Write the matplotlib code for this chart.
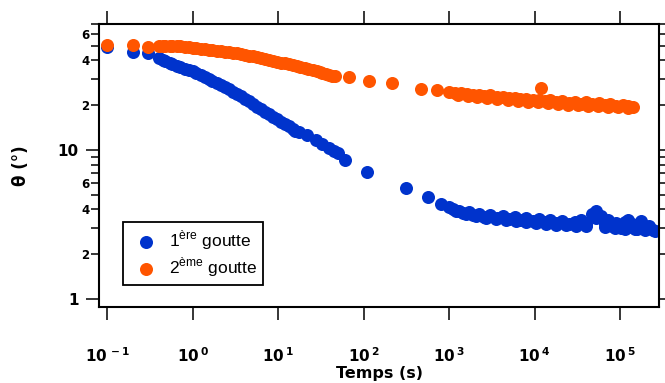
import matplotlib
matplotlib.use('Agg')
import matplotlib.pyplot as plt
from matplotlib.ticker import NullLocator

# data (time in s, contact angle in degrees)
t_goutte1 = [0.1, 0.2, 0.3, 0.40, 0.48, 0.58, 0.72, 0.90, 1.11, 1.38, 1.71, 2.13,
             2.64, 3.27, 4.06, 5.03, 6.24, 7.74, 9.6, 11.9, 14.8, 17.4, 22.1, 27.5,
             33.1, 39.0, 44.6, 49.6, 61.5, 111, 318, 575, 796,
             986, 1099, 1291, 1438, 1690, 1884, 2213, 2600, 3055, 3594, 4227, 4966,
             5834, 6855, 8054, 9480, 11140, 13090, 15380, 18070, 21230, 25000, 29380,
             34510, 40550, 47650, 53090, 59150, 65900, 73340, 81700, 91000, 101400,
             113000, 125700, 140000, 156000, 173800, 193600, 215500, 240000, 260000]
theta_goutte1 = [49.1, 45.5, 45.0, 41.4, 39.5, 37.8, 36.1, 34.4, 32.9, 30.9, 29.1, 27.3,
                 25.6, 23.8, 22.0, 20.4, 18.8, 17.5, 16.2, 14.9, 13.8, 13.2, 12.6, 11.7,
                 11.0, 10.3, 9.85, 9.55, 8.57, 7.12, 5.56, 4.84, 4.35,
                 4.14, 4.02, 3.90, 3.78, 3.84, 3.66, 3.72, 3.55, 3.66, 3.50, 3.60, 3.44,
                 3.55, 3.39, 3.50, 3.34, 3.44, 3.29, 3.39, 3.24, 3.34, 3.18, 3.29,
                 3.39, 3.18, 3.72, 3.90, 3.60, 3.18, 3.39, 3.09, 3.24, 3.00,
                 3.29, 3.04, 3.18, 2.95, 3.18, 3.00, 3.09, 2.90, 2.86]
# more readings where the blue points pile up
t_goutte1_dense = [0.446, 0.538, 0.650, 0.806, 1.0, 1.24, 1.54, 1.91, 2.37, 2.94, 3.64,
                   4.52, 5.61, 6.95, 8.62, 10.7, 13.3, 16.0,
                   1191, 1560, 2042, 2673, 3499, 4581, 5997, 7851, 10280, 13450, 17610,
                   23050, 30170, 39490, 51690, 67660, 88560, 115900, 151700, 198600,
                   125700, 173800]
theta_goutte1_dense = [40.5, 38.6, 36.9, 35.2, 33.7, 31.9, 30.0, 28.2, 26.5, 24.7, 22.9,
                       21.2, 19.6, 18.1, 16.8, 15.5, 14.4, 13.5,
                       3.90, 3.72, 3.60, 3.50, 3.44, 3.39, 3.34, 3.29, 3.24, 3.18, 3.14,
                       3.14, 3.09, 3.09, 3.50, 3.04, 3.00, 2.95, 2.95, 2.90,
                       3.40, 3.35]

t_goutte2 = [0.1, 0.2, 0.3, 0.40, 0.48, 0.58, 0.72, 0.90, 1.11, 1.38, 1.71, 2.13,
             2.64, 3.27, 4.06, 5.03, 6.24, 7.74, 9.6, 11.9, 14.8, 18.3, 22.7, 28.2,
             33.1, 39.0, 45.8, 66.8, 117, 218, 475, 733,
             986, 1159, 1365, 1602, 1884, 2213, 2600, 3055, 3594, 4227, 4966, 5834,
             6855, 8054, 9480, 11140, 13090, 15380, 18070, 21230, 25000, 29380, 34510,
             40550, 47650, 56100, 65900, 77400, 91000, 107000, 125700, 143800, 11800]
theta_goutte2 = [50.7, 50.7, 49.1, 49.9, 49.9, 49.9, 49.9, 49.1, 48.4, 47.6, 46.9, 46.2,
                 45.5, 44.8, 43.4, 42.8, 41.4, 40.2, 39.0, 38.4, 37.2, 36.1, 35.0, 33.9,
                 32.9, 31.9, 31.4, 30.9, 29.1, 28.2, 25.6, 25.3,
                 24.5, 24.1, 24.1, 23.8, 23.4, 23.4, 23.0, 23.4, 22.7, 22.7, 22.3, 22.3,
                 22.0, 22.0, 21.7, 21.7, 21.3, 21.7, 21.0, 21.3, 20.7, 21.0, 20.4,
                 21.0, 20.4, 20.7, 20.0, 20.4, 19.7, 20.0, 19.7, 19.5, 26.1]
t_goutte2_dense = [0.446, 0.538, 0.650, 0.806, 1.0, 1.24, 1.54, 1.91, 2.37, 2.94, 3.64,
                   4.52, 5.61, 6.95, 8.62, 10.7, 13.3, 16.5, 20.4, 25.3, 30.6, 35.9, 42.3,
                   1257, 1645, 2153, 2818, 3690, 4831, 6324, 8279, 10840, 14190, 18580,
                   24320, 31840, 41690, 54580, 71450, 93540, 122500]
theta_goutte2_dense = [49.9, 49.9, 49.9, 49.5, 48.7, 48.0, 47.2, 46.5, 45.8, 45.1, 44.1,
                       43.1, 42.1, 40.8, 39.6, 38.7, 37.8, 36.6, 35.5, 34.4, 33.4, 32.4, 31.6,
                       23.4, 23.0, 22.7, 22.3, 22.0, 21.7, 21.3, 21.0, 21.0, 20.7, 20.4,
                       20.0, 20.0, 19.7, 19.7, 19.5, 19.5, 19.1]

x_ticks = [1e-1, 1e0, 1e1, 1e2, 1e3, 1e4, 1e5]
x_ticklabels = [r'$\mathbf{10^{\,-1}}$', r'$\mathbf{10^{\,0}}$', r'$\mathbf{10^{\,1}}$',
                r'$\mathbf{10^{\,2}}$', r'$\mathbf{10^{\,3}}$', r'$\mathbf{10^{\,4}}$',
                r'$\mathbf{10^{\,5}}$']
y_major = [1, 10]
y_major_labels = ['1', '10']
y_minor = [2, 3, 4, 5, 6, 7, 8, 9, 20, 30, 40, 50, 60, 70]
y_minor_labels = ['2', '', '4', '', '6', '', '', '', '2', '', '4', '', '6', '']

blue = '#0033cc'
orange = '#ff5500'

plt.rcParams['font.family'] = ['DejaVu Sans']
plt.rcParams['mathtext.fontset'] = 'custom'
plt.rcParams['mathtext.rm'] = 'Liberation Sans'
plt.rcParams['mathtext.bf'] = 'DejaVu Sans:bold'

fig = plt.figure(figsize=(6.65, 3.83), dpi=100)
ax = fig.add_axes([0.1489, 0.1984, 0.8421, 0.7389])

ax.scatter(t_goutte1, theta_goutte1, s=88, color=blue, linewidths=0,
           label=r'1$^{\mathrm{ère}}$ goutte', zorder=2)
ax.scatter(t_goutte1_dense, theta_goutte1_dense, s=88, color=blue, linewidths=0, zorder=2)
ax.scatter(t_goutte2, theta_goutte2, s=88, color=orange, linewidths=0,
           label=r'2$^{\mathrm{ème}}$ goutte', zorder=3)
ax.scatter(t_goutte2_dense, theta_goutte2_dense, s=88, color=orange, linewidths=0, zorder=3)

ax.set_xscale('log')
ax.set_yscale('log')
ax.set_xlim(0.0805, 2.86e5)
ax.set_ylim(0.884, 70.2)

# ticks
ax.set_xticks(x_ticks, labels=x_ticklabels)
ax.xaxis.set_minor_locator(NullLocator())
ax.set_yticks(y_major, labels=y_major_labels)
ax.set_yticks(y_minor, labels=y_minor_labels, minor=True)
ax.tick_params(axis='x', which='major', direction='out', length=9.5, width=1.1,
               top=True, pad=19, labelsize=11)
ax.tick_params(axis='y', which='major', direction='out', length=9.5, width=1.1,
               right=True, pad=5, labelsize=11)
ax.tick_params(axis='y', which='minor', direction='out', length=6, width=1.1,
               right=True, pad=1, labelsize=8.5)
for lbl in ax.get_yticklabels(which='both'):
    lbl.set_fontweight('bold')

for sp in ax.spines.values():
    sp.set_linewidth(1.5)

# text
ax.set_xlabel('Temps (s)', fontsize=11.5, fontweight='bold')
ax.xaxis.set_label_coords(0.5, -0.208)
ax.set_ylabel('θ (°)', fontsize=12, fontweight='bold')
ax.yaxis.set_label_coords(-0.123, 0.5)

leg = ax.legend(loc='lower left', bbox_to_anchor=(0.0429, 0.0777), borderaxespad=0,
                prop={'family': 'Liberation Sans', 'size': 12.5},
                fancybox=False, edgecolor='black', framealpha=1,
                handletextpad=0.3, labelspacing=0.2, borderpad=0.35,
                handlelength=2.0, scatterpoints=1)
leg.get_frame().set_linewidth(1.3)

fig.savefig('out.png', dpi=100)
